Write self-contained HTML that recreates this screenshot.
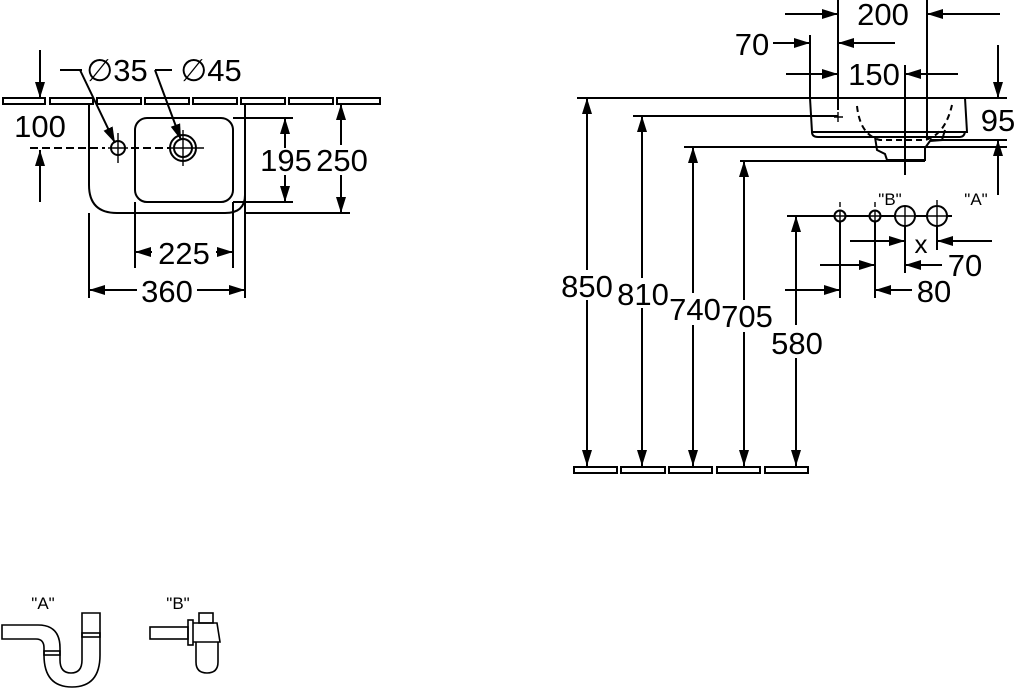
<!DOCTYPE html>
<html><head><meta charset="utf-8"><style>
html,body{margin:0;padding:0;background:#fff;}
svg{display:block;}
text{font-family:"Liberation Sans",sans-serif;fill:#000;}
.d{font-size:31px;text-anchor:middle;}
.s{font-size:17px;text-anchor:middle;}
</style></head><body>
<svg width="1015" height="690" viewBox="0 0 1015 690" xmlns="http://www.w3.org/2000/svg">
<defs>
<marker id="a" viewBox="0 0 16 10" refX="16" refY="5" markerWidth="16" markerHeight="10" markerUnits="userSpaceOnUse" orient="auto">
<path d="M0,0 L16,5 L0,10 Z" fill="#000"/></marker>
</defs>
<g stroke="#000" stroke-width="2" fill="none">
<!-- LEFT wall tiles -->
<rect x="3" y="98" width="42" height="6"/><rect x="50" y="98" width="43" height="6"/><rect x="97" y="98" width="44" height="6"/><rect x="145" y="98" width="44" height="6"/><rect x="193" y="98" width="44" height="6"/><rect x="241" y="98" width="44" height="6"/><rect x="289" y="98" width="44" height="6"/><rect x="337" y="98" width="43" height="6"/>
<!-- basin outer -->
<path d="M89,104 V185 Q89,213 117,213 H225 Q245,213 245,195 V104"/>
<rect x="135" y="118" width="98" height="84" rx="12"/>
<!-- holes -->
<circle cx="118" cy="148" r="7"/>
<circle cx="183" cy="148" r="13"/><circle cx="183" cy="148" r="9"/>
<path d="M118,133 V163 M108,148 H128 M183,130 V166 M170,148 H204" stroke-width="1.4"/>
<path d="M30,148 H105 M131,148 H170" stroke-dasharray="8,4"/>
<!-- 100 -->
<line x1="40" y1="50" x2="40" y2="98" marker-end="url(#a)"/>
<line x1="40" y1="202" x2="40" y2="150" marker-end="url(#a)"/>
<!-- leaders -->
<path d="M60,70 H82 M80,70 L115,143" marker-end="url(#a)"/>
<path d="M155,70 H172 M155,70 L181,140" marker-end="url(#a)"/>
<!-- 195 -->
<path d="M233,118 H293 M233,202 H293 M245,213 H350"/>
<line x1="285" y1="148" x2="285" y2="118" marker-end="url(#a)"/>
<line x1="285" y1="175" x2="285" y2="202" marker-end="url(#a)"/>
<line x1="341" y1="145" x2="341" y2="104" marker-end="url(#a)"/>
<line x1="341" y1="175" x2="341" y2="213" marker-end="url(#a)"/>
<!-- 225 / 360 -->
<path d="M135,202 V268 M233,202 V268 M89,213 V298 M245,195 V298"/>
<line x1="152" y1="252" x2="135" y2="252" marker-end="url(#a)"/>
<line x1="216" y1="252" x2="233" y2="252" marker-end="url(#a)"/>
<line x1="137" y1="290" x2="89" y2="290" marker-end="url(#a)"/>
<line x1="197" y1="290" x2="245" y2="290" marker-end="url(#a)"/>

<!-- RIGHT -->
<line x1="577" y1="98" x2="1007" y2="98"/>
<path d="M810,98 L812,132 L967,132 L965,98" />
<path d="M812,132 Q812,137 818,137 H960 Q964,137 965,132"/>
<path d="M875,137 L877,150 L885,154 L887,160 L925,160 L925,148 L930,141 L942,140 L945,130" />
<path d="M857,106 Q860,135 880,140 H925 Q945,135 952,105" stroke-dasharray="6,4"/>
<path d="M838,112 V122 M834,117 H843" stroke-width="1.4"/>
<path d="M633,116 H838 M684,147 H1007 M740,161 H925"/>
<!-- vertical dims -->
<line x1="587" y1="270" x2="587" y2="98" marker-end="url(#a)"/>
<line x1="587" y1="300" x2="587" y2="466" marker-end="url(#a)"/>
<line x1="642" y1="278" x2="642" y2="116" marker-end="url(#a)"/>
<line x1="642" y1="308" x2="642" y2="466" marker-end="url(#a)"/>
<line x1="693" y1="293" x2="693" y2="147" marker-end="url(#a)"/>
<line x1="693" y1="325" x2="693" y2="466" marker-end="url(#a)"/>
<line x1="744" y1="300" x2="744" y2="161" marker-end="url(#a)"/>
<line x1="744" y1="332" x2="744" y2="466" marker-end="url(#a)"/>
<line x1="796" y1="325" x2="796" y2="216" marker-end="url(#a)"/>
<line x1="796" y1="358" x2="796" y2="466" marker-end="url(#a)"/>
<!-- floor -->
<rect x="574" y="467" width="43" height="6"/><rect x="621" y="467" width="44" height="6"/><rect x="669" y="467" width="43" height="6"/><rect x="717" y="467" width="43" height="6"/><rect x="765" y="467" width="43" height="6"/>
<!-- top dims -->
<path d="M838,0 V110 M927,0 V140 M810,35 V98 M905,65 V175"/>
<line x1="785" y1="14" x2="838" y2="14" marker-end="url(#a)"/>
<line x1="1000" y1="14" x2="927" y2="14" marker-end="url(#a)"/>
<line x1="773" y1="43" x2="810" y2="43" marker-end="url(#a)"/>
<line x1="895" y1="43" x2="838" y2="43" marker-end="url(#a)"/>
<line x1="786" y1="74" x2="838" y2="74" marker-end="url(#a)"/>
<line x1="958" y1="74" x2="905" y2="74" marker-end="url(#a)"/>
<line x1="998" y1="45" x2="998" y2="98" marker-end="url(#a)"/>
<line x1="998" y1="195" x2="998" y2="140" marker-end="url(#a)"/>
<line x1="930" y1="140" x2="1007" y2="140"/>
<!-- fittings -->
<path d="M787,216 H834 M846,216 H869 M881,216 H895 M915,216 H927 M947,216 H952"/>
<circle cx="840" cy="216" r="5.5"/><circle cx="875" cy="216" r="5.5"/>
<circle cx="905" cy="216" r="10"/><circle cx="937" cy="216" r="10"/>
<path d="M834,216 H846 M840,210 V222 M869,216 H881 M875,210 V222 M895,216 H915 M905,206 V226 M927,216 H947 M937,206 V226" stroke-width="1.4"/>
<path d="M840,202 V207 M875,202 V207 M937,200 V205" stroke-width="1.4"/>
<path d="M840,222 V298 M875,222 V298 M905,226 V273 M937,226 V250"/>
<line x1="850" y1="241" x2="905" y2="241" marker-end="url(#a)"/>
<line x1="992" y1="241" x2="937" y2="241" marker-end="url(#a)"/>
<line x1="820" y1="265" x2="875" y2="265" marker-end="url(#a)"/>
<line x1="942" y1="265" x2="905" y2="265" marker-end="url(#a)"/>
<line x1="785" y1="290" x2="840" y2="290" marker-end="url(#a)"/>
<line x1="912" y1="290" x2="875" y2="290" marker-end="url(#a)"/>
</g>
<g stroke="#000" stroke-width="1.6" fill="none">
<!-- trap A -->
<path d="M2,625 H38 Q60,625 60,648 V660 Q60,673 71,673 Q82,673 82,660 V613 H100 V655 Q100,687 72,687 Q44,687 44,655 V648 Q44,639 36,639 H2 Z"/>
<rect x="44" y="651" width="16" height="4"/>
<rect x="82" y="633" width="18" height="4"/>
<!-- trap B -->
<rect x="150" y="627" width="38" height="12"/>
<rect x="188" y="620" width="5" height="25"/>
<path d="M193,623 H217 L220,642 H193"/>
<rect x="199" y="613" width="14" height="10"/>
<path d="M196,642 V662 Q196,673 207,673 Q218,673 218,662 V642"/>
</g>
<!-- text -->
<text class="d" x="40" y="137">100</text>
<text class="d" x="117" y="81">∅35</text>
<text class="d" x="211" y="81">∅45</text>
<text class="d" x="286" y="171">195</text>
<text class="d" x="342" y="171">250</text>
<text class="d" x="184" y="264">225</text>
<text class="d" x="167" y="302">360</text>
<text class="d" x="883" y="25">200</text>
<text class="d" x="752" y="55">70</text>
<text class="d" x="874" y="85">150</text>
<text class="d" x="998" y="131">95</text>
<text class="d" x="587" y="297">850</text>
<text class="d" x="643" y="305">810</text>
<text class="d" x="695" y="320">740</text>
<text class="d" x="747" y="327">705</text>
<text class="d" x="797" y="354">580</text>
<text class="d" x="921" y="253" style="font-size:26px">x</text>
<text class="d" x="965" y="276">70</text>
<text class="d" x="934" y="302">80</text>
<text class="s" x="890" y="205">"B"</text>
<text class="s" x="976" y="205">"A"</text>
<text class="s" x="43" y="609">"A"</text>
<text class="s" x="178" y="609">"B"</text>
</svg>
</body></html>
